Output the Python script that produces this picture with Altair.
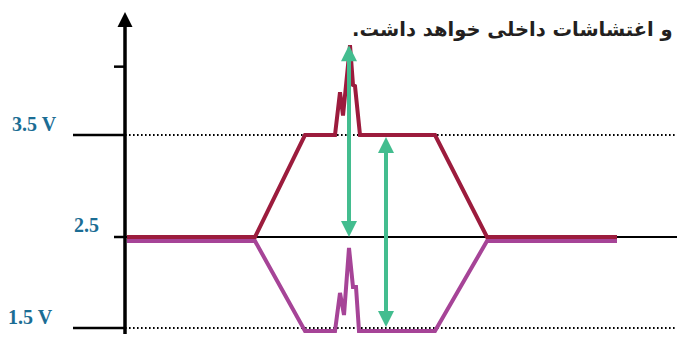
import altair as alt
import pandas as pd

# ---------------- data ----------------
# time in arbitrary units, voltage in V
can_h_t = [0.2, 13.0, 18.0, 21.0, 21.5, 21.8, 22.5, 22.8, 23.0, 23.5, 31.0, 36.2, 49.2]
can_h_v = [2.5, 2.5, 3.5, 3.5, 3.92, 3.69, 4.38, 3.99, 3.98, 3.5, 3.5, 2.5, 2.5]

can_l_t = [0.2, 13.0, 18.0, 21.0, 21.5, 21.9, 22.4, 22.8, 23.1, 23.4, 31.0, 36.2, 49.2]
can_l_v = [2.456, 2.456, 1.467, 1.467, 1.885, 1.643, 2.379, 1.951, 1.951, 1.467, 1.467, 2.456, 2.456]

level_labels = ["3.5 V", "2.5", "1.5 V"]
level_values = [3.5, 2.5, 1.5]
dotted_levels = [3.5, 1.5]
solid_level = [2.5]
long_ticks = [3.5, 1.5]
short_ticks = [4.17, 2.5]

axis_range = [1.39, 4.706]           # bottom, tip of the vertical axis
arrow_t = [22.4, 26.1]
arrow_top = [4.38, 3.48]
arrow_bottom = [2.5, 1.51]

caption = "و اغتشاشات داخلی خواهد داشت.\u200f"

# ---------------- style ----------------
T_START, T_END = 0.0, 55.2
LONG_TICK_START, SHORT_TICK_START = -5.2, -1.1
LABEL_X = {"3.5 V": -11.3, "2.5": -5.1, "1.5 V": -11.7}
LABEL_DY = {"3.5 V": -4, "2.5": -5, "1.5 V": -4}
RED = "#9c1c3d"
MAGENTA = "#a64497"
GREEN = "#43bd8f"
LABEL_COLOR = "#1b6d94"
UP = "M0,-1L1,1L-1,1Z"
DOWN = "M0,1L1,-1L-1,-1Z"

X = alt.Scale(domain=[-11.7, 55.2], nice=False, zero=False)
Y = alt.Scale(domain=[1.5, 2.5, 3.5], range=[320, 229, 127], nice=False, zero=False)


def xe(field):
    return alt.X(field, type="quantitative", scale=X, axis=None)


def ye(field):
    return alt.Y(field, type="quantitative", scale=Y, axis=None)


# reference lines
dotted_df = pd.DataFrame({"v": dotted_levels, "t0": T_START, "t1": T_END})
dotted = alt.Chart(dotted_df).mark_rule(
    color="black", strokeWidth=1.8, strokeDash=[1.6, 2.4]
).encode(x=xe("t0"), x2="t1", y=ye("v"))

solid_df = pd.DataFrame({"v": solid_level, "t0": T_START, "t1": T_END})
solid = alt.Chart(solid_df).mark_rule(color="black", strokeWidth=2).encode(
    x=xe("t0"), x2="t1", y=ye("v")
)

tick_df = pd.DataFrame(
    {
        "v": long_ticks + short_ticks,
        "t0": [LONG_TICK_START] * len(long_ticks) + [SHORT_TICK_START] * len(short_ticks),
        "t1": 0.0,
    }
)
ticks = alt.Chart(tick_df).mark_rule(color="black", strokeWidth=2.5).encode(
    x=xe("t0"), x2="t1", y=ye("v")
)

# signals
low_df = pd.DataFrame({"t": can_l_t, "v": can_l_v, "i": range(len(can_l_t))})
high_df = pd.DataFrame({"t": can_h_t, "v": can_h_v, "i": range(len(can_h_t))})

low_line = alt.Chart(low_df).mark_line(color=MAGENTA, strokeWidth=4, strokeJoin="miter").encode(
    x=xe("t"), y=ye("v"), order="i:Q"
)
high_line = alt.Chart(high_df).mark_line(color=RED, strokeWidth=4, strokeJoin="miter").encode(
    x=xe("t"), y=ye("v"), order="i:Q"
)

# green double arrows
arr_df = pd.DataFrame({"t": arrow_t, "top": arrow_top, "bot": arrow_bottom})
shafts = alt.Chart(arr_df).mark_rule(
    color=GREEN, strokeWidth=4, yOffset=8, y2Offset=-8
).encode(x=xe("t"), y=ye("top"), y2="bot")
heads_up = alt.Chart(arr_df).mark_point(
    shape=UP, size=256, filled=True, color=GREEN, opacity=1, yOffset=8
).encode(x=xe("t"), y=ye("top"))
heads_down = alt.Chart(arr_df).mark_point(
    shape=DOWN, size=256, filled=True, color=GREEN, opacity=1, yOffset=-8
).encode(x=xe("t"), y=ye("bot"))

# vertical axis with arrow
ax_df = pd.DataFrame({"t": [0.0], "lo": [axis_range[0]], "hi": [axis_range[1]]})
axis_line = alt.Chart(ax_df).mark_rule(color="black", strokeWidth=3.5, y2Offset=10).encode(
    x=xe("t"), y=ye("lo"), y2="hi"
)
axis_head = alt.Chart(ax_df).mark_point(
    shape=UP, size=225, filled=True, color="black", opacity=1, yOffset=7.5
).encode(x=xe("t"), y=ye("hi"))

# level labels
label_layers = []
for lab, val in zip(level_labels, level_values):
    d = pd.DataFrame({"label": [lab], "v": [val], "t": [LABEL_X[lab]]})
    label_layers.append(
        alt.Chart(d)
        .mark_text(
            align="left",
            baseline="alphabetic",
            dy=LABEL_DY[lab],
            font="Liberation Serif",
            fontWeight="bold",
            fontSize=20,
            color=LABEL_COLOR,
        )
        .encode(x=xe("t"), y=ye("v"), text="label:N")
    )

cap_df = pd.DataFrame({"text": [caption]})
cap = alt.Chart(cap_df).mark_text(
    align="left",
    baseline="alphabetic",
    font="DejaVu Sans",
    fontWeight="bold",
    fontSize=19.5,
    color="#231f20",
).encode(x=alt.value(344), y=alt.value(28), text="text:N")

chart = (
    alt.layer(
        dotted,
        solid,
        ticks,
        low_line,
        high_line,
        shafts,
        heads_up,
        heads_down,
        axis_line,
        axis_head,
        *label_layers,
        cap,
    )
    .properties(width=669, height=326, padding=0, autosize=alt.AutoSizeParams(type="none"))
    .configure_view(stroke=None)
)

chart.save("out.html", embed_options={"renderer": "svg", "actions": False})
